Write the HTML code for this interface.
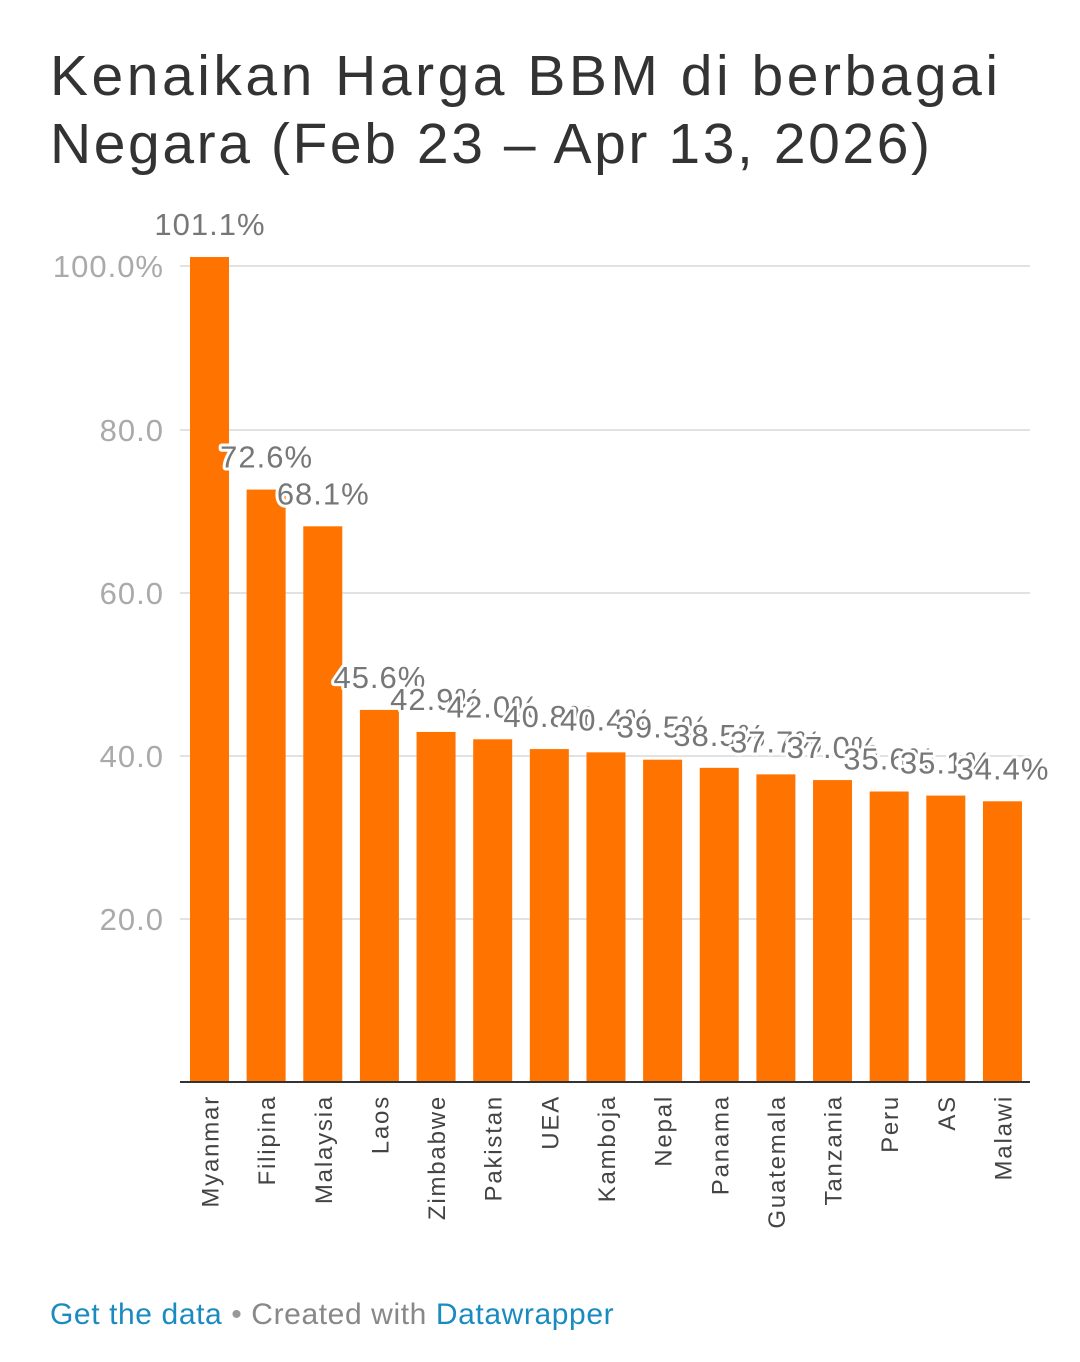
<!DOCTYPE html>
<html><head><meta charset="utf-8"><style>
body{margin:0;background:#fff;width:1080px;height:1357px;overflow:hidden;font-family:"Liberation Sans",sans-serif}
</style></head><body>
<svg width="1080" height="1357" xmlns="http://www.w3.org/2000/svg" font-family="Liberation Sans, sans-serif">
<text x="50" y="95" font-size="57" fill="#333" textLength="948" lengthAdjust="spacing">Kenaikan Harga BBM di berbagai</text>
<text x="50" y="163" font-size="57" fill="#333" textLength="880" lengthAdjust="spacing">Negara (Feb 23 – Apr 13, 2026)</text>
<g stroke="#e2e2e2" stroke-width="2">
<line x1="180" x2="1030" y1="266" y2="266"/><line x1="180" x2="1030" y1="430" y2="430"/>
<line x1="180" x2="1030" y1="593" y2="593"/><line x1="180" x2="1030" y1="756" y2="756"/>
<line x1="180" x2="1030" y1="919" y2="919"/>
</g>
<g font-size="31" fill="#aaa" text-anchor="end" letter-spacing="1">
<text x="164" y="277">100.0%</text><text x="164" y="441">80.0</text><text x="164" y="604">60.0</text>
<text x="164" y="767">40.0</text><text x="164" y="930">20.0</text>
</g>
<g id="bars" fill="#ff7400"></g>
<line x1="180" x2="1030" y1="1082" y2="1082" stroke="#333" stroke-width="2"/>
<g id="labs" font-size="31" fill="#777" text-anchor="middle" letter-spacing="1" stroke="#fff" stroke-width="6" paint-order="stroke" stroke-linejoin="round"></g>
<g id="names" font-size="24" fill="#444" text-anchor="end" letter-spacing="1.8"></g>
<text x="50" y="1324" font-size="30" fill="#1a8bc0" letter-spacing="0.6">Get the data <tspan fill="#999">•</tspan><tspan fill="#888"> Created with </tspan><tspan fill="#1a8bc0">Datawrapper</tspan></text>
</svg>
<script>
var d=[["Myanmar",101.1],["Filipina",72.6],["Malaysia",68.1],["Laos",45.6],["Zimbabwe",42.9],["Pakistan",42.0],["UEA",40.8],["Kamboja",40.4],["Nepal",39.5],["Panama",38.5],["Guatemala",37.7],["Tanzania",37.0],["Peru",35.6],["AS",35.1],["Malawi",34.4]];
var ns="http://www.w3.org/2000/svg",b=document.getElementById("bars"),l=document.getElementById("labs"),n=document.getElementById("names");
d.forEach(function(e,i){var x=190+i*56.64,t=1082-e[1]*8.16,c=x+19.5;
var r=document.createElementNS(ns,"rect");r.setAttribute("x",x);r.setAttribute("y",t);r.setAttribute("width",39);r.setAttribute("height",1082-t);b.appendChild(r);
var s=document.createElementNS(ns,"text");s.setAttribute("x",c+0.5);s.setAttribute("y",t-22);s.textContent=e[1].toFixed(1)+"%";l.appendChild(s);
var m=document.createElementNS(ns,"text");m.setAttribute("transform","translate("+(c+9)+",1095) rotate(-90)");m.textContent=e[0];n.appendChild(m);});
</script>
</body></html>
